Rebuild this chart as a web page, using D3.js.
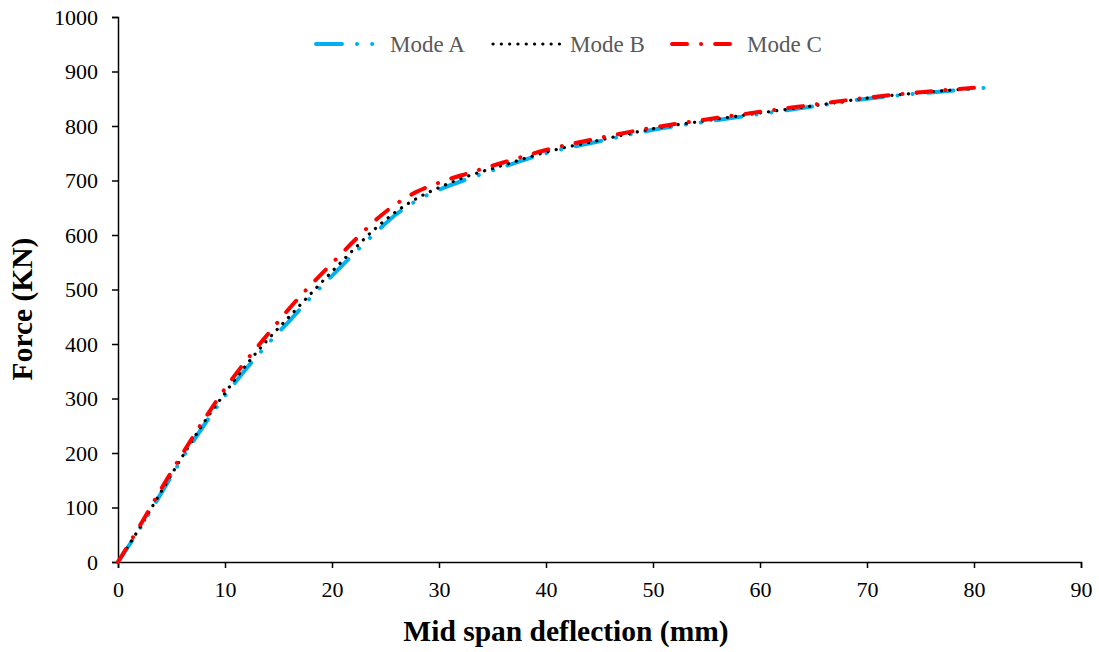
<!DOCTYPE html>
<html>
<head>
  <meta charset="UTF-8">
  <style>
    body { margin: 0; background: white; }
    svg { display: block; }
    .axis path, .axis line { stroke: black; stroke-width: 1.5; }
    .axis text { font-family: "Liberation Serif", "Times New Roman", serif; font-size: 22px; fill: black; }
    .title { font-family: "Liberation Serif", "Times New Roman", serif; font-weight: bold; font-size: 29.5px; }
    .legend text { font-family: "Liberation Serif", "Times New Roman", serif; font-size: 23px; fill: #595959; }
  </style>
</head>
<body>
<div id="chart"></div>
<script src="https://d3js.org/d3.v7.min.js"></script>
<script>

// deflection (mm) / force (KN)
let deflA = [0, 2, 4, 6, 8, 10, 12, 14, 16, 18, 20, 22, 24, 26, 28, 30, 33, 36, 40, 45, 50, 55, 60, 65, 70, 75, 81];
let forceA = [0, 60, 125, 190, 250, 305, 355, 400, 442, 485, 525, 565, 603, 638, 664, 683, 705, 725, 750, 772, 793, 808, 822, 836, 850, 860, 870];

let deflB = [0, 2, 4, 6, 8, 10, 12, 14, 16, 18, 20, 22, 24, 26, 28, 30, 33, 36, 40, 45, 50, 55, 60, 65, 70, 75, 80];
let forceB = [0, 62, 128, 193, 255, 310, 362, 408, 450, 492, 533, 573, 611, 643, 668, 687, 710, 728, 752, 774, 795, 810, 824, 837, 851, 861, 869];

let deflC = [0, 2, 4, 6, 8, 10, 12, 14, 16, 18, 20, 22, 24, 26, 28, 30, 33, 36, 40, 45, 50, 55, 60, 65, 70, 75, 80];
let forceC = [0, 65, 133, 198, 260, 318, 370, 418, 465, 508, 548, 588, 626, 657, 680, 696, 715, 733, 756, 778, 797, 812, 826, 839, 852, 862, 870];

let modeNames = ["Mode A", "Mode B", "Mode C"];
let xTicks = [0, 10, 20, 30, 40, 50, 60, 70, 80, 90];
let yTicks = [0, 100, 200, 300, 400, 500, 600, 700, 800, 900, 1000];

let width = 1099, height = 652;
let margin = {top: 17, right: 18, bottom: 90, left: 118};

let svg = d3.select("#chart").append("svg")
    .attr("width", width)
    .attr("height", height);

let x = d3.scaleLinear().domain([0, 90]).range([margin.left, width - margin.right]);
let y = d3.scaleLinear().domain([0, 1000]).range([height - margin.bottom, margin.top]);

svg.append("g")
    .attr("class", "axis")
    .attr("transform", "translate(0," + (height - margin.bottom) + ")")
    .call(d3.axisBottom(x).tickValues(xTicks).tickFormat(d3.format("d")).tickSize(6).tickPadding(13).tickSizeOuter(6));

svg.append("g")
    .attr("class", "axis")
    .attr("transform", "translate(" + margin.left + ",0)")
    .call(d3.axisLeft(y).tickValues(yTicks).tickFormat(d3.format("d")).tickSize(6).tickPadding(14).tickSizeOuter(6));

svg.append("text")
    .attr("class", "title")
    .attr("x", 566)
    .attr("y", 641)
    .attr("text-anchor", "middle")
    .text("Mid span deflection (mm)");

svg.append("text")
    .attr("class", "title")
    .attr("transform", "translate(32,309) rotate(-90)")
    .attr("text-anchor", "middle")
    .text("Force (KN)");

let series = [
    {name: modeNames[0], d: deflA, f: forceA, color: "#00B0F0", w: 4, dash: "26 15 0.1 15 0.1 15"},
    {name: modeNames[1], d: deflB, f: forceB, color: "#000000", w: 3.2, dash: "0.1 8.2"},
    {name: modeNames[2], d: deflC, f: forceC, color: "#FF0000", w: 4, dash: "15 14 0.1 14"}
];

let line = d3.line()
    .x(p => x(p[0]))
    .y(p => y(p[1]))
    .curve(d3.curveMonotoneX);

series.forEach(s => {
    svg.append("path")
        .datum(d3.zip(s.d, s.f))
        .attr("d", line)
        .attr("fill", "none")
        .attr("stroke", s.color)
        .attr("stroke-width", s.w)
        .attr("stroke-linecap", "round")
        .attr("stroke-dasharray", s.dash);
});

// legend
let legendPos = [{x1: 316, x2: 376, tx: 390}, {x1: 493, x2: 560, tx: 570}, {x1: 672, x2: 730, tx: 747}];
let legend = svg.append("g").attr("class", "legend");
series.forEach((s, i) => {
    let p = legendPos[i];
    legend.append("line")
        .attr("x1", p.x1).attr("x2", p.x2)
        .attr("y1", 44).attr("y2", 44)
        .attr("stroke", s.color)
        .attr("stroke-width", s.w)
        .attr("stroke-linecap", "round")
        .attr("stroke-dasharray", s.dash);
    legend.append("text")
        .attr("x", p.tx)
        .attr("y", 52)
        .text(s.name);
});

</script>
</body>
</html>
